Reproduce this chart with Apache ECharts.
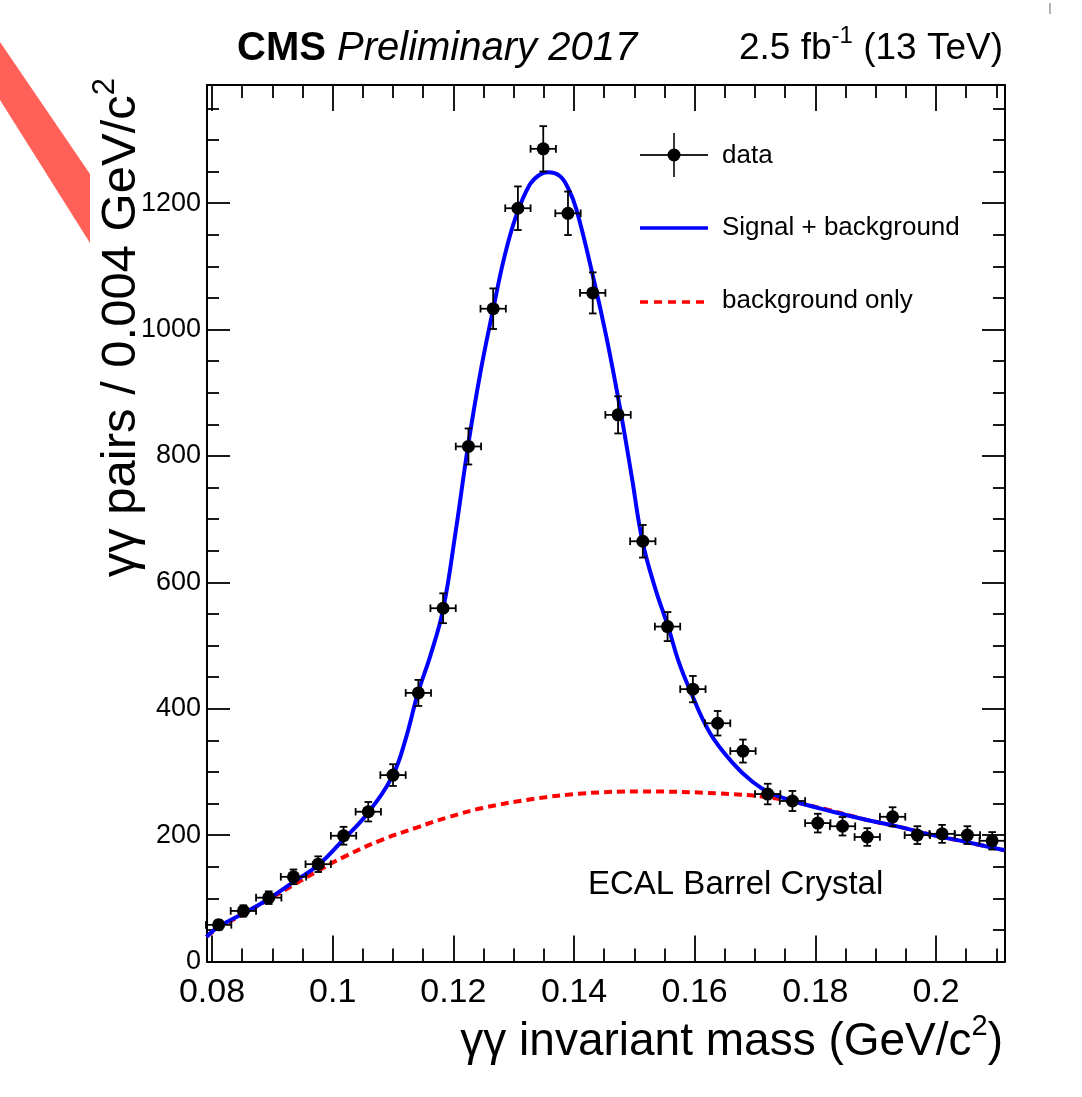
<!DOCTYPE html>
<html><head><meta charset="utf-8">
<script src="https://cdn.jsdelivr.net/npm/echarts@6/dist/echarts.min.js"></script>
<style>html,body{margin:0;padding:0;background:#fff}#c{width:1082px;height:1097px}</style>
</head><body><div id="c"></div>
<script>
// ---- data ----
const massX = [0.0811, 0.0852, 0.0894, 0.0935, 0.0976, 0.1018, 0.1059, 0.1100, 0.1142, 0.1183,
               0.1225, 0.1266, 0.1307, 0.1349, 0.1390, 0.1431, 0.1473, 0.1514, 0.1555, 0.1597,
               0.1638, 0.1680, 0.1721, 0.1762, 0.1804, 0.1845, 0.1886, 0.1928, 0.1969, 0.2010,
               0.2052, 0.2093];
const pairCounts = [58, 80, 101, 134, 154, 199, 237, 295, 425, 559,
                    815, 1033, 1192, 1286, 1184, 1058, 865, 665, 530, 431,
                    377, 333, 265, 254, 219, 214, 197, 229, 200, 202,
                    200, 191];
const pairErrors = [7.6, 8.9, 10.0, 11.6, 12.4, 14.1, 15.4, 17.2, 20.6, 23.6,
                    28.5, 32.1, 34.5, 35.9, 34.4, 32.5, 29.4, 25.8, 23.0, 20.8,
                    19.4, 18.2, 16.3, 15.9, 14.8, 14.6, 14.0, 15.1, 14.1, 14.2,
                    14.1, 13.8];
const binHalfWidth = 0.0021;

const fitX = [0.07909, 0.08108, 0.08539, 0.08937, 0.09352, 0.09766, 0.10169, 0.10584, 0.10998, 0.11209,
              0.11413, 0.11619, 0.11828, 0.12035, 0.12242, 0.12448, 0.12657, 0.12851, 0.13045, 0.13265,
              0.13431, 0.13569, 0.13765, 0.13901, 0.14040, 0.14315, 0.14537, 0.14758, 0.14952, 0.15134,
              0.15347, 0.15559, 0.15736, 0.15919, 0.16250, 0.16632, 0.16963, 0.17245, 0.17627, 0.18290,
              0.18856, 0.19395, 0.19942, 0.20506, 0.21136];
const fitY = [39, 55, 77, 99, 126, 153, 192, 235, 295, 352,
              425, 484, 556, 678, 815, 932, 1031, 1117, 1181, 1229,
              1245, 1249, 1243, 1224, 1190, 1084, 988, 878, 770, 665,
              590, 530, 474, 430, 362, 314, 284, 267, 254, 237,
              224, 213, 200, 189, 176];

const bkgX = [0.07909, 0.08108, 0.08539, 0.08937, 0.09352, 0.09766, 0.10197, 0.10828, 0.11392, 0.11939,
              0.12486, 0.13315, 0.14144, 0.15106, 0.16400, 0.17262, 0.18124, 0.18856, 0.19395, 0.19942,
              0.20506, 0.21136];
const bkgY = [39, 53, 76, 98, 121, 144, 166, 193, 212, 229,
              243, 257, 266, 269, 266, 259, 242, 224, 213, 200,
              189, 176];

const xRange = [0.07917, 0.21143];
const yRange = [0, 1387];

const FONT = '"Liberation Sans", Arial, Helvetica, sans-serif';

const chart = echarts.init(document.getElementById('c'), null, {renderer: 'canvas'});

function errorBarItem(params, api) {
  const x = api.value(0), y = api.value(1), e = api.value(2), hw = api.value(3);
  const c = api.coord([x, y]);
  const lo = api.coord([x, y - e]);
  const hi = api.coord([x, y + e]);
  const l = api.coord([x - hw, y]);
  const r = api.coord([x + hw, y]);
  const cap = 3.8;
  const st = {stroke: '#000', lineWidth: 1.8};
  return {
    type: 'group',
    children: [
      {type: 'line', shape: {x1: c[0], y1: lo[1], x2: c[0], y2: hi[1]}, style: st},
      {type: 'line', shape: {x1: c[0] - cap, y1: lo[1], x2: c[0] + cap, y2: lo[1]}, style: st},
      {type: 'line', shape: {x1: c[0] - cap, y1: hi[1], x2: c[0] + cap, y2: hi[1]}, style: st},
      {type: 'line', shape: {x1: l[0], y1: c[1], x2: r[0], y2: c[1]}, style: st},
      {type: 'line', shape: {x1: l[0], y1: c[1] - cap, x2: l[0], y2: c[1] + cap}, style: st},
      {type: 'line', shape: {x1: r[0], y1: c[1] - cap, x2: r[0], y2: c[1] + cap}, style: st}
    ]
  };
}

const axisLineStyle = {color: '#000', width: 2};

const option = {
  animation: false,
  backgroundColor: '#fff',
  grid: {left: 207, right: 77, top: 85, bottom: 135.5, containLabel: false, outerBoundsMode: 'none'},
  xAxis: [
    {
      type: 'value', position: 'bottom', min: xRange[0], max: xRange[1], splitNumber: 7,
      axisLine: {show: true, onZero: false, lineStyle: axisLineStyle},
      axisTick: {show: true, inside: true, length: 26, lineStyle: {color: '#000', width: 1.8}},
      minorTick: {show: true, splitNumber: 4, length: 13, lineStyle: {color: '#000', width: 1.8}},
      axisLabel: {show: true, showMinLabel: false, showMaxLabel: false, fontSize: 34, color: '#000',
                  fontFamily: FONT, margin: 14},
      splitLine: {show: false}
    },
    {
      type: 'value', position: 'top', min: xRange[0], max: xRange[1], splitNumber: 7,
      axisLine: {show: true, onZero: false, lineStyle: axisLineStyle},
      axisTick: {show: true, inside: true, length: 26, lineStyle: {color: '#000', width: 1.8}},
      minorTick: {show: true, splitNumber: 4, length: 13, lineStyle: {color: '#000', width: 1.8}},
      axisLabel: {show: false},
      splitLine: {show: false}
    }
  ],
  yAxis: [
    {
      type: 'value', position: 'left', min: yRange[0], max: yRange[1], splitNumber: 7,
      axisLine: {show: true, onZero: false, lineStyle: axisLineStyle},
      axisTick: {show: true, inside: true, length: 23, lineStyle: {color: '#000', width: 1.8}},
      minorTick: {show: true, splitNumber: 4, length: 12, lineStyle: {color: '#000', width: 1.8}},
      axisLabel: {show: true, showMaxLabel: false, fontSize: 27, color: '#000', fontFamily: FONT, margin: 6,
                  formatter: (v) => String(v)},
      splitLine: {show: false}
    },
    {
      type: 'value', position: 'right', min: yRange[0], max: yRange[1], splitNumber: 7,
      axisLine: {show: true, onZero: false, lineStyle: axisLineStyle},
      axisTick: {show: true, inside: true, length: 23, lineStyle: {color: '#000', width: 1.8}},
      minorTick: {show: true, splitNumber: 4, length: 12, lineStyle: {color: '#000', width: 1.8}},
      axisLabel: {show: false},
      splitLine: {show: false}
    }
  ],
  series: [
    {
      name: 'background only', type: 'line', xAxisIndex: 0, yAxisIndex: 0,
      data: bkgX.map((x, i) => [x, bkgY[i]]),
      showSymbol: false, smooth: 0.4, z: 2,
      lineStyle: {color: '#ff0000', width: 4, type: [8, 5]}
    },
    {
      name: 'Signal + background', type: 'line', xAxisIndex: 0, yAxisIndex: 0,
      data: fitX.map((x, i) => [x, fitY[i]]),
      showSymbol: false, smooth: 0.4, z: 3,
      lineStyle: {color: '#0000ff', width: 4}
    },
    {
      name: 'data errors', type: 'custom', xAxisIndex: 0, yAxisIndex: 0, z: 4,
      renderItem: errorBarItem,
      data: massX.map((x, i) => [x, pairCounts[i], pairErrors[i], binHalfWidth])
    },
    {
      name: 'data', type: 'scatter', xAxisIndex: 0, yAxisIndex: 0, z: 5,
      data: massX.map((x, i) => [x, pairCounts[i]]),
      symbol: 'circle', symbolSize: 13, itemStyle: {color: '#000', opacity: 1}
    }
  ],
  graphic: [
    {type: 'polygon', shape: {points: [[0, 42], [90, 174], [90, 243], [0, 100]]}, style: {fill: '#ff6158'}, z: 1},
    {type: 'line', shape: {x1: 1050, y1: 3, x2: 1050, y2: 14}, style: {stroke: '#666', lineWidth: 1}},
    {
      type: 'text', x: 237, y: 49, z: 10,
      style: {
        text: '{b|CMS}{i| Preliminary 2017}', align: 'left', verticalAlign: 'middle',
        rich: {
          b: {fontFamily: FONT, fontSize: 40, fontWeight: 'bold', fill: '#000'},
          i: {fontFamily: FONT, fontSize: 40, fontStyle: 'italic', fill: '#000'}
        }
      }
    },
    {
      type: 'text', x: 1003, y: 49, z: 10,
      style: {
        text: '{n|2.5 fb}{s|-1}{n| (13 TeV)}', align: 'right', verticalAlign: 'middle',
        rich: {
          n: {fontFamily: FONT, fontSize: 37, fill: '#000', lineHeight: 50, verticalAlign: 'middle'},
          s: {fontFamily: FONT, fontSize: 24, fill: '#000', lineHeight: 26, verticalAlign: 'top'}
        }
      }
    },
    {
      type: 'text', x: 1003, y: 1042, z: 10,
      style: {
        text: '{n|γγ invariant mass (GeV/c}{s|2}{n|)}', align: 'right', verticalAlign: 'middle',
        rich: {
          n: {fontFamily: FONT, fontSize: 46, fill: '#000', lineHeight: 60, verticalAlign: 'middle'},
          s: {fontFamily: FONT, fontSize: 29, fill: '#000', lineHeight: 30, verticalAlign: 'top'}
        }
      }
    },
    {
      type: 'text', x: 121, y: 78, rotation: Math.PI / 2, z: 10,
      style: {
        text: '{n|γγ pairs / 0.004 GeV/c}{s|2}', align: 'right', verticalAlign: 'middle',
        rich: {
          n: {fontFamily: FONT, fontSize: 49, fill: '#000', lineHeight: 62, verticalAlign: 'middle'},
          s: {fontFamily: FONT, fontSize: 31, fill: '#000', lineHeight: 31, verticalAlign: 'top'}
        }
      }
    },
    // legend
    {type: 'line', shape: {x1: 640, y1: 155, x2: 708, y2: 155}, style: {stroke: '#222', lineWidth: 1.8}, z: 10},
    {type: 'line', shape: {x1: 674, y1: 133, x2: 674, y2: 177}, style: {stroke: '#222', lineWidth: 1.8}, z: 10},
    {type: 'circle', shape: {cx: 674, cy: 155, r: 6.5}, style: {fill: '#000'}, z: 10},
    {type: 'text', x: 722, y: 156, z: 10, style: {text: 'data', fontFamily: FONT, fontSize: 26, fill: '#000', verticalAlign: 'middle'}},
    {type: 'line', shape: {x1: 640, y1: 228, x2: 708, y2: 228}, style: {stroke: '#0000ff', lineWidth: 3.5}, z: 10},
    {type: 'text', x: 722, y: 228, z: 10, style: {text: 'Signal + background', fontFamily: FONT, fontSize: 26, fill: '#000', verticalAlign: 'middle'}},
    {type: 'line', shape: {x1: 640, y1: 302, x2: 708, y2: 302}, style: {stroke: '#ff0000', lineWidth: 3.5, lineDash: [8, 6]}, z: 10},
    {type: 'text', x: 722, y: 301, z: 10, style: {text: 'background only', fontFamily: FONT, fontSize: 26, fill: '#000', verticalAlign: 'middle'}},
    {type: 'text', x: 588, y: 885, z: 10, style: {text: 'ECAL Barrel Crystal', fontFamily: FONT, fontSize: 33, fill: '#000', verticalAlign: 'middle'}}
  ]
};
chart.setOption(option);
</script>
</body></html>
